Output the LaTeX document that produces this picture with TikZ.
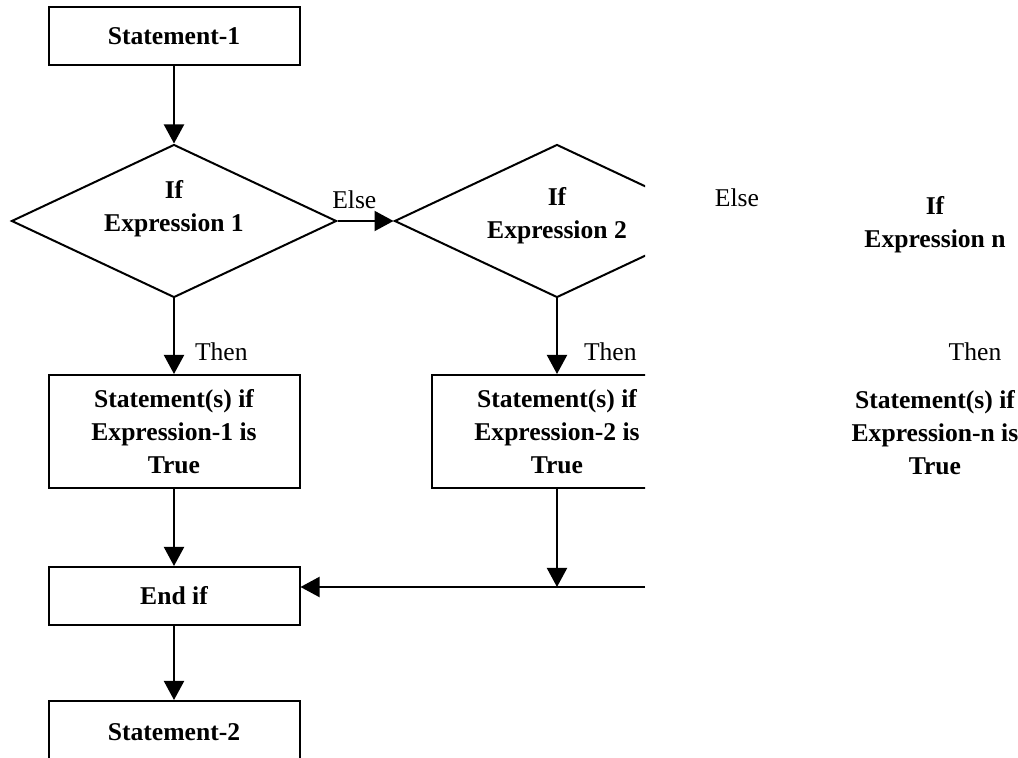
\documentclass[tikz,border=0pt]{standalone}
\usepackage{fontspec}
\setmainfont{Liberation Serif}
\usetikzlibrary{shapes, arrows.meta}

\begin{document}
\begin{tikzpicture}[x=0.5pt, y=-0.5pt, line width=1pt,
						every node/.style={font=\fontsize{12.8}{16.5}\selectfont},
						every path/.style={>={Triangle[length=9.5pt, width=10pt]}},
						stmt/.style={rectangle, draw, align=center, inner sep=0pt,
							minimum width=125.5pt, minimum height=29pt,
							font=\fontsize{12.8}{16.5}\selectfont\bfseries},
						decision/.style={diamond, draw, inner sep=0pt,
							minimum width=162.5pt, minimum height=76.5pt},
						cond/.style={align=center, inner sep=0pt,
							font=\fontsize{12.8}{16.5}\selectfont\bfseries},
						lbl/.style={inner sep=0pt}]
					\useasboundingbox (0,0) rectangle (1018,758);

					\node[stmt] (S1) at (174,36) {Statement-1};
					\node[decision, label={[cond, yshift=6pt]center:{If\\Expression 1}}] (D1) at (174,221) {};
					\node[stmt, minimum height=56.5pt] (B1) at (174,431.5) {Statement(s) if\\Expression-1 is\\True};
					\node[stmt] (EndIf) at (174,596) {End if};
					\node[stmt, minimum height=31pt] (S2) at (174,732) {Statement-2};

					\begin{scope}
						\clip (0,0) rectangle (645,758);
						\node[decision, label={[cond, yshift=2.5pt]center:{If\\Expression 2}}] (D2) at (557,221) {};
						\node[stmt, minimum height=56.5pt] (B2) at (557,431.5) {Statement(s) if\\Expression-2 is\\True};
					\end{scope}

					\node[lbl] (Else2) at (737,198) {Else};
					\node[cond] (Dn) at (935,225) {If\\Expression n};
					\node[lbl] (ThenN) at (975,352) {Then};
					\node[cond] (Bn) at (935,433) {Statement(s) if\\Expression-n is\\True};

					\coordinate (R) at (645,587);

					\path [->] (S1) edge (D1);
					\path [->] (D1) edge node[lbl, above, pos=0.3, yshift=5.5pt] {Else} (D2);
					\path [->] (D1) edge node[lbl, right, pos=0.7, xshift=10pt] {Then} (B1);
					\path [->] (D2) edge node[lbl, right, pos=0.7, xshift=13pt] {Then} (B2);
					\path [->] (B1) edge (EndIf);
					\path [->] (EndIf) edge (S2);
					\draw [->] (B2) -- (B2 |- R);
					\draw [->] (R) -- (R -| EndIf.east);
				\end{tikzpicture}
\end{document}
